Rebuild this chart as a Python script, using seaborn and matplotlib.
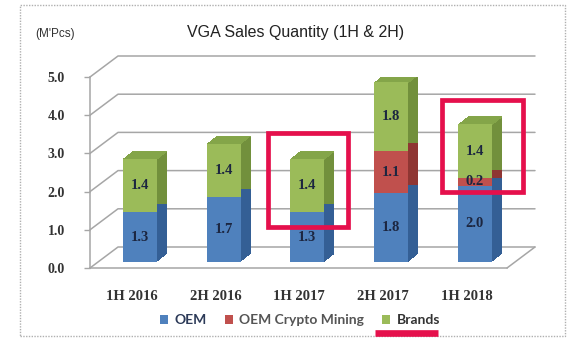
import matplotlib
matplotlib.use('Agg')
import matplotlib.pyplot as plt
import matplotlib.transforms as mtransforms
from matplotlib.patches import Rectangle, Patch
from matplotlib.lines import Line2D
import seaborn as sns

# data (M pcs)
periods = ['1H 2016', '2H 2016', '1H 2017', '2H 2017', '1H 2018']
oem = [1.3, 1.7, 1.3, 1.8, 2.0]
crypto = [0.0, 0.0, 0.0, 1.1, 0.2]
brands = [1.4, 1.4, 1.4, 1.8, 1.4]
series_names = ['OEM', 'OEM Crypto Mining', 'Brands']
y_ticks = [0.0, 1.0, 2.0, 3.0, 4.0, 5.0]

front_colors = ['#4f81bd', '#c0504d', '#9bbb59']
side_colors = ['#345f95', '#8f3633', '#72903c']
top_color = '#84a549'
label_color = '#1c2640'
grid_color = '#a6a6a6'

sns.set_theme(style='white')
plt.rcParams['font.family'] = ['Liberation Serif', 'DejaVu Serif']

DPI = 100
fig = plt.figure(figsize=(5.7, 3.56), dpi=DPI)
# axes = front plane of the pseudo 3d box
ax = fig.add_axes([90 / 570, 88 / 356, 417 / 570, 191 / 356])
ax.set_facecolor('none')
xlim = (-0.5, 4.48)
ylim = (0, 5)


def shift(dx, dy):
    return ax.transData + mtransforms.ScaledTranslation(dx / DPI, dy / DPI, fig.dpi_scale_trans)


# pixel -> data conversion for the box depth
px_x = 417 / (xlim[1] - xlim[0])
px_y = 191 / (ylim[1] - ylim[0])
depth_x, depth_y = 28 / px_x, 21 / px_y

# back wall, left wall and floor
for y in y_ticks:
    ax.add_line(Line2D([xlim[0], xlim[0] + depth_x, xlim[1] + depth_x],
                       [y, y + depth_y, y + depth_y],
                       color=grid_color, lw=1.1, clip_on=False, zorder=1))
ax.add_line(Line2D([xlim[1], xlim[1] + depth_x], [0, depth_y],
                   color=grid_color, lw=1.1, clip_on=False, zorder=1))

segments = [oem, crypto, brands]
bottoms = []
acc = [0.0] * len(periods)
for seg in segments:
    bottoms.append(list(acc))
    acc = [a + v for a, v in zip(acc, seg)]
totals = acc

bar_w = 0.406
plane_dx, plane_dy = 8, 6
ext_dx, ext_dy = 10, 8
n_steps = 16
xs = list(range(len(periods)))

# extrusion (sides)
for k in range(1, n_steps + 1):
    tr = shift(plane_dx + ext_dx * k / n_steps, plane_dy + ext_dy * k / n_steps)
    for seg, bot, col in zip(segments, bottoms, side_colors):
        ax.bar(xs, seg, bottom=bot, width=bar_w, color=col, linewidth=0,
               transform=tr, zorder=2)
# top faces
eps = 1.2 / px_y
for k in range(0, n_steps + 1):
    tr = shift(plane_dx + ext_dx * k / n_steps, plane_dy + ext_dy * k / n_steps)
    ax.bar(xs, [eps] * len(xs), bottom=[t - eps for t in totals], width=bar_w,
           color=top_color, linewidth=0, transform=tr, zorder=2.5)

# front faces
front_tr = shift(plane_dx, plane_dy)
for seg, bot, col in zip(segments, bottoms, front_colors):
    sns.barplot(x=periods, y=seg, bottom=bot, width=bar_w, color=col,
                saturation=1, errorbar=None, linewidth=0, transform=front_tr,
                zorder=3, ax=ax)

for seg, bot in zip(segments, bottoms):
    for i, (v, b) in enumerate(zip(seg, bot)):
        if v > 0:
            ax.text(i, b + v / 2, f'{v:.1f}', transform=front_tr, ha='center',
                    va='center', fontsize=10.5, fontweight='bold',
                    color=label_color, zorder=5)

ax.set_xlim(*xlim)
ax.set_ylim(*ylim)
ax.set_yticks(y_ticks)
ax.set_yticklabels([f'{t:.1f}' for t in y_ticks], fontsize=10, fontweight='bold',
                   color='#333333')
ax.set_xticks(xs)
ax.set_xticklabels(periods, fontsize=10.5, fontweight='bold', color='#333333')
ax.set_xticks([x + 0.5 for x in xs[:-1]] + [xlim[1]], minor=True)
ax.tick_params(axis='x', which='major', length=0, pad=16)
ax.tick_params(axis='x', which='minor', length=4, color=grid_color, width=1)
ax.tick_params(axis='y', length=4, color=grid_color, width=1, pad=14, left=True)
for s in ['top', 'right']:
    ax.spines[s].set_visible(False)
for s in ['left', 'bottom']:
    ax.spines[s].set_color(grid_color)
    ax.spines[s].set_linewidth(1.1)
ax.set_xlabel('')
ax.set_ylabel('')

# highlight boxes
box_kw = dict(fill=False, edgecolor='#e5104c', linewidth=3.4, zorder=6, clip_on=False)
ax.add_patch(Rectangle((2 - 0.38, 1.07), 0.96, 2.46, **box_kw))
ax.add_patch(Rectangle((4 - 0.30, 1.99), 0.97, 2.41, **box_kw))

# titles
fig.text(296 / 570, 1 - 32 / 356, 'VGA Sales Quantity (1H & 2H)', ha='center',
         va='center', fontsize=11.5, family=['Liberation Sans', 'DejaVu Sans'],
         color='#222222')
fig.text(55 / 570, 1 - 34 / 356, "(M'Pcs)", ha='center', va='center', fontsize=8.5,
         family=['Liberation Sans', 'DejaVu Sans'], color='#333333')

# legend
handles = [Patch(facecolor=c, edgecolor='none', label=n)
           for c, n in zip(front_colors, series_names)]
leg = fig.legend(handles=handles, loc='center', bbox_to_anchor=(300 / 570, 1 - 320 / 356),
                 ncol=3, frameon=False, handlelength=0.6, handleheight=0.6,
                 handletextpad=0.45, columnspacing=1.3,
                 prop={'family': 'Lato', 'weight': 'bold', 'size': 10})
for t, c in zip(leg.get_texts(), ['#2c3a58', '#555555', '#333333']):
    t.set_color(c)

# underline under "Brands"
fig.add_artist(Line2D([375 / 570, 438 / 570], [1 - 333 / 356, 1 - 333 / 356],
                      color='#e5104c', lw=4.8, solid_capstyle='butt',
                      transform=fig.transFigure))

# outer frame
fig.add_artist(Rectangle((20 / 570, 1 - 336 / 356), 545 / 570, 331 / 356,
                         fill=False, edgecolor='#b0b0b0', linewidth=1,
                         linestyle=(0, (1, 1)), transform=fig.transFigure))

fig.savefig('out.png', dpi=DPI)
